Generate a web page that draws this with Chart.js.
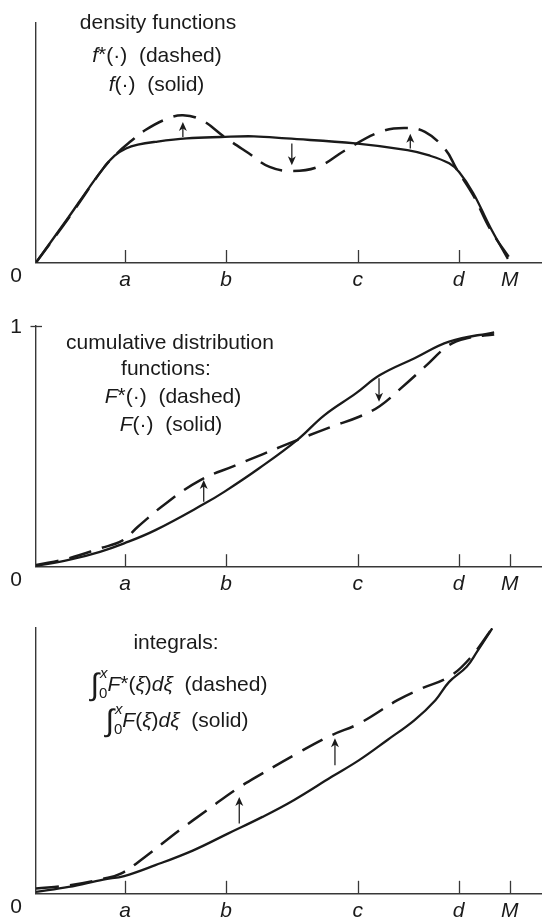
<!DOCTYPE html>
<html>
<head>
<meta charset="utf-8">
<script src="https://cdn.jsdelivr.net/npm/chart.js@4.4.1/dist/chart.umd.min.js"></script>
<style>
  html, body { margin: 0; padding: 0; background: #fff; width: 542px; height: 919px; overflow: hidden; }
  .panel { position: absolute; left: 0; width: 542px; }
</style>
</head>
<body>
<div class="panel" style="top:0;height:300px"><canvas id="density"></canvas></div>
<div class="panel" style="top:300px;height:310px"><canvas id="cdf"></canvas></div>
<div class="panel" style="top:610px;height:340px"><canvas id="integral"></canvas></div>
<script>
// ---- marked points on the horizontal axis (M = 100) ----
const tickNames = ['a', 'b', 'c', 'd', 'M'];
const tickValues = [18.8, 40.1, 67.9, 89.2, 100];
const xEnd = 106.8;
const originLabel = '0';
const cdfTopLabel = '1';

// ---- density functions: f (solid) and f* (dashed) ----
const fX = [0, 6.9, 11.3, 14.2, 16.6, 19.0, 21.5, 25.2, 31.8, 39.0, 46.0, 52.9, 67.4, 78.4, 82.8, 87.2, 89.3, 92.3, 95.9, 99.6];
const fY = [0, 19.0, 31.5, 39.3, 44.6, 47.6, 49.2, 50.4, 51.8, 52.4, 52.7, 51.8, 49.7, 46.9, 44.8, 41.4, 37.8, 28.9, 14.6, 1.5];
const fStarX = [0, 6.9, 14.2, 17.1, 20.0, 23.0, 27.4, 31.0, 35.0, 39.8, 44.9, 49.3, 54.0, 59.5, 65.3, 72.6, 77.7, 82.1, 86.5, 88.7, 92.3, 95.9, 100.3];
const fStarY = [0, 18.6, 39.3, 45.6, 50.6, 55.2, 59.8, 61.5, 59.4, 52.4, 45.6, 39.9, 38.2, 39.9, 46.9, 54.5, 56.2, 54.5, 46.9, 39.3, 28.0, 13.8, 0.8];
const fArrowX = [31.0, 54.0, 79.0];
const fArrowFrom = [52.4, 49.7, 47.6];
const fArrowTo = [58.7, 40.6, 53.8];

// ---- cumulative distribution functions: F (solid) and F* (dashed) ----
const cdfX = [0, 6.9, 13.5, 18.6, 25.2, 35.4, 39.8, 47.1, 55.1, 60.9, 67.5, 72.6, 79.9, 87.2, 96.7];
const cdfY = [0.003, 0.028, 0.062, 0.097, 0.152, 0.260, 0.312, 0.409, 0.526, 0.630, 0.720, 0.796, 0.866, 0.935, 0.974];
const cdfStarX = [0, 6.9, 13.5, 18.2, 21.5, 27.4, 34.7, 42.0, 47.8, 55.1, 62.4, 68.2, 72.6, 77.0, 82.1, 87.2, 90.9, 96.7];
const cdfStarY = [0.007, 0.035, 0.076, 0.108, 0.166, 0.263, 0.360, 0.420, 0.467, 0.526, 0.582, 0.623, 0.668, 0.741, 0.831, 0.921, 0.949, 0.965];
const cdfArrowX = [35.4, 72.4];
const cdfArrowFrom = [0.270, 0.783];
const cdfArrowTo = [0.360, 0.685];

// ---- integrals of F (solid) and F* (dashed) ----
const intX = [0, 6.9, 14.2, 18.6, 25.2, 33.2, 40.5, 47.8, 54.4, 62.4, 68.2, 74.1, 79.9, 84.3, 87.2, 90.9, 93.1, 96.3];
const intY = [0.5, 2.4, 5.2, 6.5, 10.6, 16.2, 22.5, 28.8, 35.1, 43.9, 50.2, 57.7, 65.3, 72.8, 79.7, 85.4, 91.1, 99.9];
const intStarX = [0, 6.9, 14.2, 17.9, 23.0, 30.3, 36.1, 42.0, 47.8, 55.1, 62.4, 68.2, 76.3, 81.4, 87.2, 91.6, 96.3];
const intStarY = [1.8, 3.0, 5.5, 7.4, 13.7, 23.8, 31.3, 38.9, 45.2, 52.7, 59.6, 64.0, 72.8, 77.2, 81.6, 88.6, 99.9];
const intArrowX = [42.9, 63.1];
const intArrowFrom = [26.3, 48.3];
const intArrowTo = [36.3, 58.4];

const INK = '#1a1a1a';
const AXIS = '#383838';
const FONT = '"Liberation Sans", Arial, Helvetica, sans-serif';
const TEXT_SIZE = 21;
Chart.defaults.font.family = FONT;
Chart.defaults.color = INK;

const zip = (xs, ys) => xs.map((x, i) => ({ x, y: ys[i] }));

// Draws one line of mixed upright / italic text, centred on cx.
function drawRich(ctx, segs, cx, baseY) {
  const parts = segs.map(s => {
    const font = `${s.it ? 'italic ' : ''}${s.sz || TEXT_SIZE}px ${FONT}`;
    ctx.font = font;
    const w = ctx.measureText(s.t).width;
    return { s, font, adv: s.adv !== undefined ? s.adv : w + (s.kern || 0) };
  });
  const total = parts.reduce((a, p) => a + p.adv, 0);
  let px = cx - total / 2;
  ctx.textAlign = 'left';
  ctx.textBaseline = 'alphabetic';
  parts.forEach(p => {
    ctx.font = p.font;
    ctx.fillText(p.s.t, px + (p.s.dx || 0), baseY + (p.s.dy || 0));
    px += p.adv;
  });
}

// Upright tick marks, arrows between the curves, axis numbers and captions.
function decor(cfg) {
  return {
    id: 'decor',
    afterDatasetsDraw(chart) {
      const { ctx, scales: { x, y } } = chart;
      const base = y.getPixelForValue(0);
      ctx.save();
      ctx.strokeStyle = AXIS;
      ctx.lineWidth = 1.3;
      cfg.marks.forEach(v => {
        const px = Math.round(x.getPixelForValue(v)) + 0.5;
        ctx.beginPath();
        ctx.moveTo(px, base);
        ctx.lineTo(px, base - 12.5);
        ctx.stroke();
      });
      if (cfg.topLabel) {
        const py = Math.round(y.getPixelForValue(y.max)) + 0.5;
        ctx.beginPath();
        ctx.moveTo(x.left - 5.5, py);
        ctx.lineTo(x.left + 6, py);
        ctx.stroke();
      }

      ctx.strokeStyle = INK;
      ctx.fillStyle = INK;
      ctx.lineWidth = 1.25;
      cfg.arrowX.forEach((ax, i) => {
        const px = x.getPixelForValue(ax);
        const p0 = y.getPixelForValue(cfg.arrowFrom[i]);
        const p1 = y.getPixelForValue(cfg.arrowTo[i]);
        const dir = p1 < p0 ? -1 : 1;
        ctx.beginPath();
        ctx.moveTo(px, p0);
        ctx.lineTo(px, p1 - dir * 5);
        ctx.stroke();
        ctx.beginPath();
        ctx.moveTo(px, p1);
        ctx.lineTo(px - 4, p1 - dir * 9);
        ctx.lineTo(px, p1 - dir * 6.5);
        ctx.lineTo(px + 4, p1 - dir * 9);
        ctx.closePath();
        ctx.fill();
      });

      ctx.font = `${TEXT_SIZE}px ${FONT}`;
      ctx.textAlign = 'center';
      ctx.textBaseline = 'middle';
      ctx.fillText(originLabel, 16, base + 13.5);
      if (cfg.topLabel) ctx.fillText(cfg.topLabel, 16, y.getPixelForValue(y.max) + 1.5);

      cfg.lines.forEach(l => drawRich(ctx, l.segs, l.cx, l.y));
      ctx.restore();
    }
  };
}

function build(id, cfg) {
  return new Chart(document.getElementById(id), {
    type: 'line',
    data: {
      datasets: [
        { data: zip(cfg.solidX, cfg.solidY), borderColor: INK, borderWidth: 2.3, tension: 0.4 },
        { data: zip(cfg.dashX, cfg.dashY), borderColor: INK, borderWidth: 2.5, borderDash: [23, 11], tension: 0.4 }
      ]
    },
    options: {
      responsive: true,
      maintainAspectRatio: false,
      animation: false,
      events: [],
      layout: { padding: cfg.pad },
      elements: { point: { radius: 0 }, line: { fill: false, borderCapStyle: 'butt' } },
      plugins: { legend: { display: false }, tooltip: { enabled: false } },
      scales: {
        x: {
          type: 'linear', min: 0, max: xEnd,
          grid: { display: false, drawTicks: false },
          border: { display: true, color: AXIS, width: 1.4 },
          afterBuildTicks: s => { s.ticks = tickValues.map(v => ({ value: v })); },
          ticks: {
            autoSkip: false, maxRotation: 0, padding: 5, color: INK,
            font: { size: TEXT_SIZE, style: 'italic' },
            callback: (v, i) => tickNames[i]
          }
        },
        y: {
          type: 'linear', min: 0, max: cfg.yMax,
          grid: { display: false, drawTicks: false },
          border: { display: true, color: AXIS, width: 1.4 },
          ticks: { display: false }
        }
      }
    },
    plugins: [decor(cfg)]
  });
}

build('density', {
  solidX: fX, solidY: fY, dashX: fStarX, dashY: fStarY, yMax: 100,
  arrowX: fArrowX, arrowFrom: fArrowFrom, arrowTo: fArrowTo,
  marks: tickValues.slice(0, 4),
  pad: { top: 23, left: 36, right: 0, bottom: 2.3 },
  lines: [
    { cx: 158, y: 29.3, segs: [{ t: 'density functions' }] },
    { cx: 157, y: 62, segs: [{ t: 'f', it: 1 }, { t: '*', dy: -1 }, { t: '(·)  (dashed)' }] },
    { cx: 156.5, y: 90.5, segs: [{ t: 'f', it: 1 }, { t: '(·)  (solid)' }] }
  ]
});

build('cdf', {
  solidX: cdfX, solidY: cdfY, dashX: cdfStarX, dashY: cdfStarY, yMax: 1,
  arrowX: cdfArrowX, arrowFrom: cdfArrowFrom, arrowTo: cdfArrowTo,
  marks: tickValues, topLabel: cdfTopLabel,
  pad: { top: 26, left: 36, right: 0, bottom: 8.1 },
  lines: [
    { cx: 170, y: 49.3, segs: [{ t: 'cumulative distribution' }] },
    { cx: 166, y: 75, segs: [{ t: 'functions:' }] },
    { cx: 173, y: 102.7, segs: [{ t: 'F', it: 1 }, { t: '*', dy: -1 }, { t: '(·)  (dashed)' }] },
    { cx: 171, y: 131, segs: [{ t: 'F', it: 1 }, { t: '(·)  (solid)' }] }
  ]
});

build('integral', {
  solidX: intX, solidY: intY, dashX: intStarX, dashY: intStarY, yMax: 100,
  arrowX: intArrowX, arrowFrom: intArrowFrom, arrowTo: intArrowTo,
  marks: tickValues,
  pad: { top: 18, left: 36, right: 0, bottom: 21.5 },
  lines: [
    { cx: 176, y: 39, segs: [{ t: 'integrals:' }] },
    { cx: 179, y: 81, segs: [
      { t: '∫', sz: 31, dy: 4 }, { t: 'x', it: 1, sz: 15, dy: -13, dx: 1, adv: 0 }, { t: '0', sz: 15, dy: 7 },
      { t: 'F', it: 1 }, { t: '*', dy: -1 }, { t: '(' }, { t: 'ξ', it: 1 }, { t: ')' }, { t: 'd', it: 1 }, { t: 'ξ', it: 1 },
      { t: '  (dashed)' }
    ] },
    { cx: 177, y: 117, segs: [
      { t: '∫', sz: 31, dy: 4 }, { t: 'x', it: 1, sz: 15, dy: -13, dx: 1, adv: 0 }, { t: '0', sz: 15, dy: 7 },
      { t: 'F', it: 1 }, { t: '(' }, { t: 'ξ', it: 1 }, { t: ')' }, { t: 'd', it: 1 }, { t: 'ξ', it: 1 },
      { t: '  (solid)' }
    ] }
  ]
});
</script>
</body>
</html>
